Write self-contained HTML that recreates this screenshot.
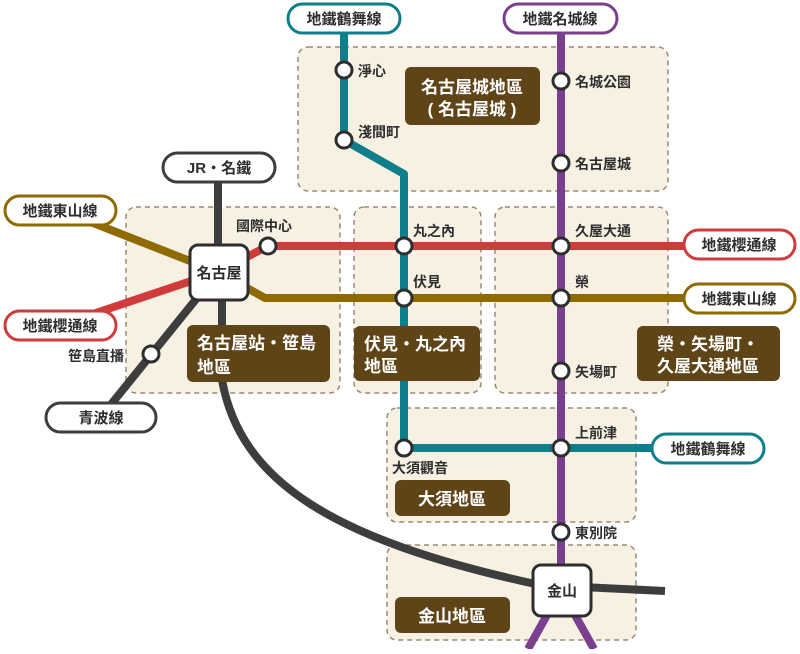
<!DOCTYPE html>
<html><head><meta charset="utf-8"><style>
body{margin:0;background:#fff}
svg text{font-family:"Liberation Sans","Noto Sans CJK TC",sans-serif;font-weight:bold}
</style></head><body>
<svg width="800" height="649" viewBox="0 0 800 649" xmlns="http://www.w3.org/2000/svg">
<g fill="#f7f1e3" stroke="#9a8a72" stroke-width="1.5" stroke-dasharray="5,4">
<rect x="298" y="47" width="370" height="144" rx="10"/>
<rect x="126" y="207" width="214" height="186" rx="10"/>
<rect x="354" y="207" width="127" height="186" rx="10"/>
<rect x="495" y="207" width="173" height="186" rx="10"/>
<rect x="387" y="408" width="249" height="114" rx="10"/>
<rect x="387" y="545" width="249" height="95" rx="10"/>
</g>
<g fill="none" stroke-width="8" stroke-linejoin="round">
<path d="M218 168 V272 M218 272 L100 418 M222 290 V380 C240 480 330 540 540 585 L665 591" stroke="#3d3d3d"/>
<path d="M60 210 L218 272 L265 298 H765" stroke="#8f6a00"/>
<path d="M60 325 L218 272 L268 246 H765" stroke="#d03c3c"/>
<path d="M344 18 V140 L404 174 V448 H765" stroke="#0e7f8a"/>
<path d="M561 18 V590 M561 590 L528 649 M561 590 L594 649" stroke="#7b3f8f"/>
</g>
<g fill="#fff" stroke="#2e2e2e" stroke-width="3">
<circle cx="344" cy="70" r="8"/><circle cx="344" cy="140" r="8"/>
<circle cx="561" cy="81" r="8"/><circle cx="561" cy="163" r="8"/>
<circle cx="404" cy="246" r="8"/><circle cx="561" cy="246" r="8"/>
<circle cx="404" cy="298" r="8"/><circle cx="561" cy="298" r="8"/>
<circle cx="561" cy="371" r="8"/><circle cx="404" cy="448" r="8"/>
<circle cx="561" cy="448" r="8"/><circle cx="561" cy="532" r="8"/>
<circle cx="268" cy="246" r="8"/><circle cx="151" cy="354" r="8"/>
<rect x="190" y="245" width="58" height="55" rx="8"/>
<rect x="533" y="565" width="58" height="51" rx="8"/>
</g>
<g fill="#fff" stroke-width="3">
<rect x="288" y="4" width="112" height="29" rx="14.5" stroke="#0e7f8a"/>
<rect x="504" y="4" width="113" height="29" rx="14.5" stroke="#7b3f8f"/>
<rect x="163" y="153" width="112" height="29" rx="14.5" stroke="#3d3d3d"/>
<rect x="5" y="196" width="111" height="29" rx="14.5" stroke="#8f6a00"/>
<rect x="5" y="311" width="111" height="29" rx="14.5" stroke="#d03c3c"/>
<rect x="46" y="403" width="110" height="29" rx="14.5" stroke="#3d3d3d"/>
<rect x="684" y="230" width="111" height="29" rx="14.5" stroke="#d03c3c"/>
<rect x="684" y="284" width="111" height="29" rx="14.5" stroke="#8f6a00"/>
<rect x="652" y="434" width="112" height="29" rx="14.5" stroke="#0e7f8a"/>
</g>
<g fill="#5f4418">
<rect x="405" y="67" width="135" height="58" rx="6"/>
<rect x="187" y="325" width="143" height="57" rx="6"/>
<rect x="354" y="326" width="126" height="55" rx="6"/>
<rect x="637" y="326" width="143" height="55" rx="6"/>
<rect x="395" y="480" width="115" height="36" rx="6"/>
<rect x="395" y="597" width="115" height="36" rx="6"/>
</g>
<g font-size="15" fill="#2e2e2e" text-anchor="middle">
<text x="344" y="24">地鐵鶴舞線</text><text x="560" y="24">地鐵名城線</text>
<text x="219" y="173">JR・名鐵</text><text x="60" y="216">地鐵東山線</text>
<text x="60" y="331">地鐵櫻通線</text><text x="101" y="423">青波線</text>
<text x="739" y="250">地鐵櫻通線</text><text x="739" y="304">地鐵東山線</text>
<text x="708" y="454">地鐵鶴舞線</text>
<text x="219" y="278">名古屋</text><text x="562" y="596">金山</text>
</g>
<g font-size="14" fill="#2e2e2e">
<text x="358" y="76">淨心</text><text x="358" y="137">淺間町</text>
<text x="575" y="87">名城公園</text><text x="575" y="169">名古屋城</text>
<text x="413" y="236">丸之內</text><text x="413" y="287">伏見</text>
<text x="575" y="236">久屋大通</text><text x="575" y="287">榮</text>
<text x="575" y="377">矢場町</text><text x="575" y="438">上前津</text>
<text x="575" y="538">東別院</text><text x="392" y="473">大須觀音</text>
<text x="236" y="231">國際中心</text><text x="68" y="361">笹島直播</text>
</g>
<g font-size="17" fill="#fff">
<text x="472" y="93" text-anchor="middle">名古屋城地區</text>
<text x="472" y="115" text-anchor="middle">( 名古屋城 )</text>
<text x="197" y="349">名古屋站・笹島</text><text x="197" y="373">地區</text>
<text x="364" y="350">伏見・丸之內</text><text x="364" y="372">地區</text>
<text x="708" y="350" text-anchor="middle">榮・矢場町・</text>
<text x="708" y="372" text-anchor="middle">久屋大通地區</text>
<text x="452" y="505" text-anchor="middle">大須地區</text>
<text x="452" y="622" text-anchor="middle">金山地區</text>
</g>
</svg>
</body></html>
